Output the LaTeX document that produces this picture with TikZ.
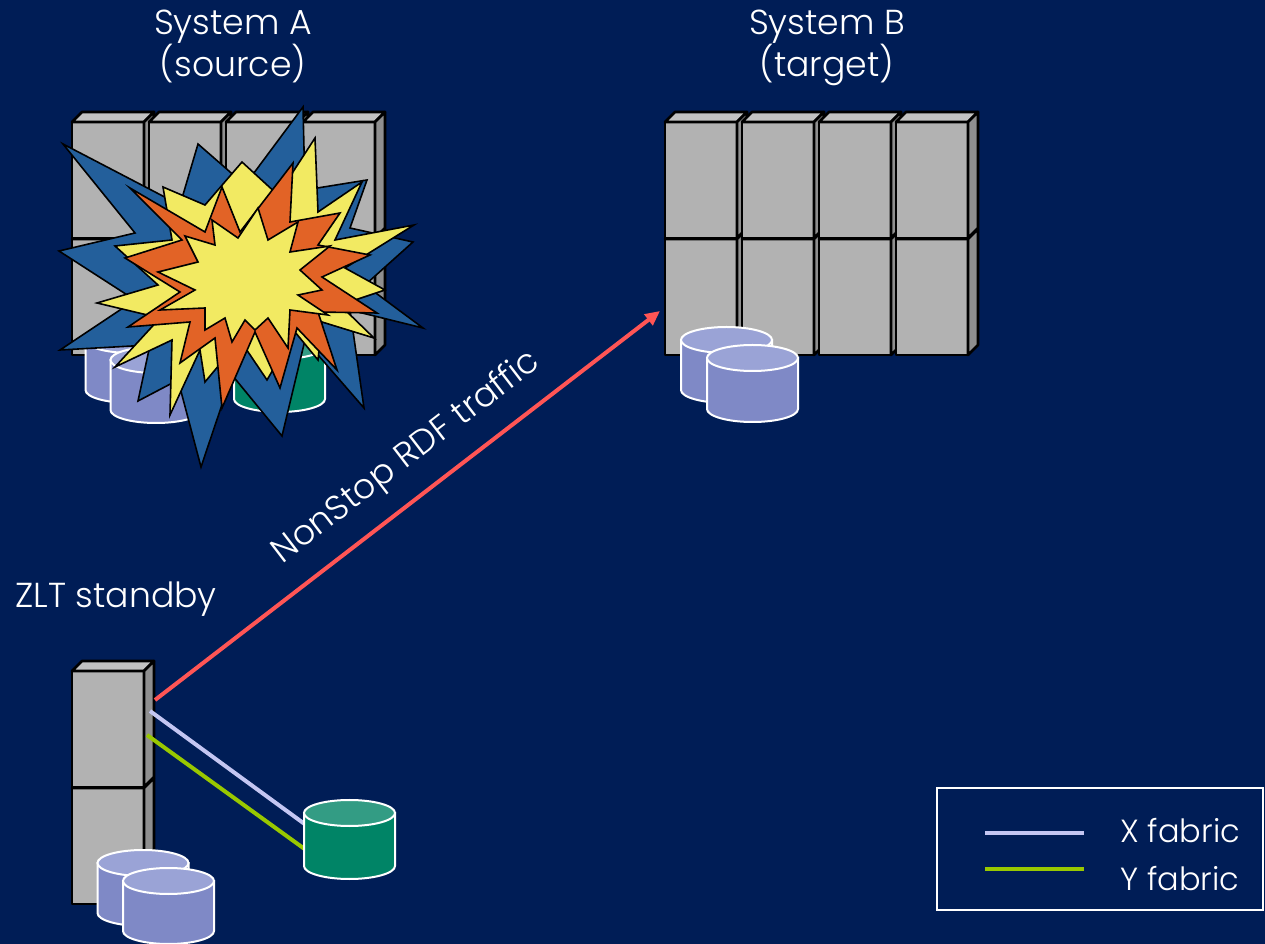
\documentclass[tikz,border=0pt]{standalone}
\usepackage{fontspec}
\setmainfont{Poppins}[UprightFont={* Light}]
\usetikzlibrary{arrows.meta}

\definecolor{bgblue}{RGB}{0,29,86}
\definecolor{rackfront}{RGB}{178,178,178}
\definecolor{racktop}{RGB}{194,194,194}
\definecolor{rackside}{RGB}{143,143,143}
\definecolor{lavbody}{RGB}{127,137,198}
\definecolor{lavtop}{RGB}{154,163,214}
\definecolor{greenbody}{RGB}{0,132,102}
\definecolor{greentop}{RGB}{51,156,132}
\definecolor{burstblue}{RGB}{35,95,155}
\definecolor{burstorange}{RGB}{226,99,38}
\definecolor{burstyellow}{RGB}{242,234,98}
\definecolor{rdfred}{RGB}{255,85,85}
\definecolor{xfabric}{RGB}{196,198,242}
\definecolor{yfabric}{RGB}{153,200,0}

\tikzset{every picture/.style={line width=0.75pt}}
\tikzset{
  rack/.style={draw=black, line width=2pt, line join=round},
  disk/.style={draw=white, line width=1.5pt},
  burst/.style={draw=black, line width=1.2pt, line join=miter},
  txt/.style={text=white, inner sep=0.75pt, font=\fontsize{26}{30}\selectfont},
  legendtxt/.style={txt, font=\fontsize{24}{28}\selectfont},
  pics/rackunit/.style={code={
    \begin{scope}[yscale=-1]
    \filldraw[rack, fill=rackfront] (0,0) rectangle (72,116);
    \filldraw[rack, fill=racktop] (0,0) -- (10,-10) -- (82,-10) -- (72,0) -- cycle;
    \filldraw[rack, fill=rackside] (72,0) -- (82,-10) -- (82,106) -- (72,116) -- cycle;
    \end{scope}
  }},
  pics/disk/.style 2 args={code={
    \begin{scope}[yscale=-1]
    \filldraw[disk, fill=#1body] (-45.5,0) -- (-45.5,#2) arc[start angle=180, end angle=0, x radius=45.5, y radius=13] -- (45.5,0) -- cycle;
    \filldraw[disk, fill=#1top] (0,0) ellipse [x radius=45.5, y radius=13];
    \end{scope}
  }},
}

\begin{document}
\begin{tikzpicture}[x=0.75pt,y=0.75pt,yscale=-1,xscale=1]
\useasboundingbox (0,0) rectangle (1265,944);
\fill[bgblue] (0,0) rectangle (1265,944);

%Racks: System A and System B, lower row first
\foreach \rowy in {239,122} {
  \foreach \col in {0,...,3} {
    \pic at ({72+77*\col},\rowy) {rackunit};
    \pic at ({665+77*\col},\rowy) {rackunit};
  }
}
%Rack: ZLT standby
\pic at (72,788) {rackunit};
\pic at (72,671) {rackunit};

%Disks of System A
\pic at (131,340) {disk={lav}{50}};
\pic at (156,360) {disk={lav}{50}};
\pic at (279.5,346) {disk={green}{53}};
%Disks of System B
\pic at (726.5,340) {disk={lav}{50}};
\pic at (752.5,358) {disk={lav}{51}};

%Shape: Explosion, outer blue
\filldraw[burst, fill=burstblue] (303,107) -- (305,190) -- (367,180) -- (350,228) -- (413,242) -- (365,285) -- (423,328) -- (350,310) -- (364,408) -- (305,340) -- (282,436) -- (232,375) -- (201,467) -- (178,380) -- (138,401) -- (150,345) -- (60,350) -- (135,300) -- (59,251) -- (135,233) -- (63,144) -- (180,205) -- (198,144) -- (245,185) -- cycle;
%Shape: Explosion, big yellow
\filldraw[burst, fill=burstyellow] (163,187) -- (205,205) -- (242,162) -- (278,195) -- (315,138) -- (318,212) -- (362,182) -- (335,240) -- (414,225) -- (345,268) -- (385,290) -- (340,305) -- (374,338) -- (322,322) -- (318,360) -- (295,332) -- (267,380) -- (240,340) -- (205,382) -- (200,350) -- (170,415) -- (172,340) -- (115,367) -- (160,318) -- (97,303) -- (158,285) -- (115,246) -- (172,240) -- cycle;
%Shape: Explosion, orange
\filldraw[burst, fill=burstorange] (222,187) -- (240,232) -- (293,163) -- (290,222) -- (340,213) -- (318,245) -- (370,255) -- (322,277) -- (377,313) -- (318,312) -- (337,370) -- (297,328) -- (280,388) -- (255,332) -- (222,408) -- (215,338) -- (180,363) -- (190,322) -- (128,327) -- (180,292) -- (125,258) -- (182,240) -- (130,188) -- (205,232) -- cycle;
%Shape: Explosion, inner yellow
\filldraw[burst, fill=burstyellow] (258,208) -- (268,240) -- (298,222) -- (290,252) -- (330,246) -- (300,270) -- (322,290) -- (298,295) -- (328,315) -- (290,310) -- (288,348) -- (268,318) -- (255,330) -- (245,320) -- (232,342) -- (225,318) -- (205,330) -- (205,308) -- (160,310) -- (195,290) -- (158,272) -- (198,262) -- (185,236) -- (215,245) -- (212,220) -- (238,238) -- cycle;

%Connector ends
\coordinate (zltR) at (155,700);
\coordinate (zltX) at (150,711);
\coordinate (zltY) at (147,735);
\coordinate (sysBin) at (660,311);
\coordinate (mirX) at (306,825);
\coordinate (mirY) at (306,850);

%Straight Lines: X and Y fabric to the mirrored disk
\draw[xfabric, line width=3pt] (zltX) -- (mirX);
\draw[yfabric, line width=3pt] (zltY) -- (mirY);
%Disks of ZLT standby
\pic at (143,863) {disk={lav}{50}};
\pic at (168.5,881) {disk={lav}{50}};
\pic at (349.5,813) {disk={green}{53}};

%Straight Lines: RDF traffic
\draw[rdfred, line width=3pt, -{Triangle[length=11pt,width=10pt]}] (zltR) -- (sysBin);
\node[txt, anchor=base, rotate=37.5] (rdflabel) at (412,465) {NonStop RDF traffic};

% Text Node
\node[txt, anchor=base] (sysAname) at (233,35) {System A};
\node[txt, anchor=base] (sysArole) at (233,77) {(source)};
\node[txt, anchor=base] (sysBname) at (827,35) {System B};
\node[txt, anchor=base] (sysBrole) at (827,77) {(target)};
\node[txt, anchor=base west] (zltname) at (14,608) {ZLT standby};

%Legend
\draw[white, line width=1.1pt] (937,788) rectangle (1263,910);
\draw[xfabric, line width=3.5pt] (985,833) -- (1084,833);
\draw[yfabric, line width=3.5pt] (985,869) -- (1084,869);
\node[legendtxt, anchor=base west] (xlegend) at (1119,842) {X fabric};
\node[legendtxt, anchor=base west] (ylegend) at (1119,890) {Y fabric};

\end{tikzpicture}
\end{document}
